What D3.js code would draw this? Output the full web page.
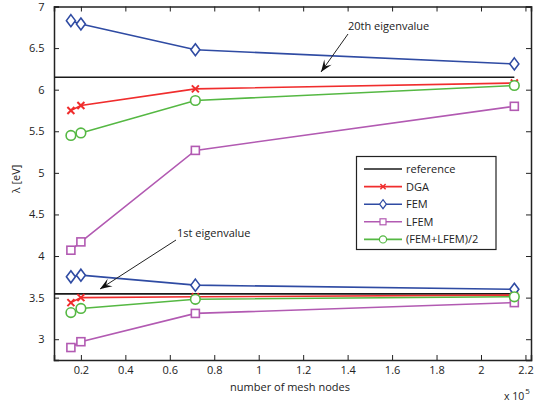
<!DOCTYPE html>
<html>
<head>
<meta charset="UTF-8">
<style>
  body { margin: 0; background: #fff; }
  text { font-family: "Open Sans", "Liberation Sans", sans-serif; fill: #222; }
</style>
</head>
<body>
<script src="https://d3js.org/d3.v7.min.js"></script>
<script>
// mesh node counts (x 10^5)
const nodes = [0.155, 0.2, 0.715, 2.15];
const refX = [0, 2.15];
// 20th eigenvalue
const ref20 = [6.15, 6.15];
const dga20 = [5.75, 5.81, 6.01, 6.08];
const fem20 = [6.83, 6.79, 6.48, 6.31];
const lfem20 = [4.07, 4.17, 5.27, 5.80];
const avg20 = [5.45, 5.48, 5.87, 6.05];
// 1st eigenvalue
const ref1 = [3.545, 3.545];
const dga1 = [3.44, 3.50, 3.51, 3.53];
const fem1 = [3.75, 3.77, 3.65, 3.60];
const lfem1 = [2.90, 2.97, 3.31, 3.44];
const avg1 = [3.32, 3.37, 3.48, 3.51];

const xTicks = [0.2, 0.4, 0.6, 0.8, 1, 1.2, 1.4, 1.6, 1.8, 2, 2.2];
const yTicks = [3, 3.5, 4, 4.5, 5, 5.5, 6, 6.5, 7];

const W = 541, H = 403;
const m = {left: 54, right: 10, top: 6.5, bottom: 43};

const svg = d3.select('body').append('svg')
  .attr('width', W).attr('height', H);

const x = d3.scaleLinear().domain([0.079, 2.225]).range([m.left, W - m.right]);
const y = d3.scaleLinear().domain([2.75, 7]).range([H - m.bottom, m.top]);

svg.append('clipPath').attr('id', 'clip').append('rect')
  .attr('x', x.range()[0]).attr('y', y.range()[1])
  .attr('width', x.range()[1] - x.range()[0]).attr('height', y.range()[0] - y.range()[1]);

// axes with inward ticks on all sides
const tk = 5;
svg.append('g').attr('transform', `translate(0,${y(2.75)})`)
  .call(d3.axisBottom(x).tickValues(xTicks).tickSize(-tk).tickPadding(6.5).tickFormat(d3.format('')));
svg.append('g').attr('transform', `translate(0,${y(7)})`)
  .call(d3.axisTop(x).tickValues(xTicks).tickSize(-tk).tickFormat(''));
svg.append('g').attr('transform', `translate(${x(0.079)},0)`)
  .call(d3.axisLeft(y).tickValues(yTicks).tickSize(-tk).tickPadding(9.5).tickFormat(d3.format('')));
svg.append('g').attr('transform', `translate(${x(2.225)},0)`)
  .call(d3.axisRight(y).tickValues(yTicks).tickSize(-tk).tickFormat(''));
svg.selectAll('.domain').attr('stroke', '#222').attr('stroke-width', 1.5);
svg.selectAll('.tick line').attr('stroke', '#222');
svg.selectAll('.tick text').style('font-size', '11px').attr('fill', '#222');

const line = d3.line().x(d => x(d[0])).y(d => y(d[1]));
const plot = svg.append('g').attr('clip-path', 'url(#clip)');

const series = [
  {name: 'reference', color: '#1a1a1a', mk: null, sets: [ref20, ref1], xs: refX},
  {name: 'DGA', color: '#f02d2d', mk: 'x', sets: [dga20, dga1], xs: nodes},
  {name: 'FEM', color: '#2f4ba3', mk: 'd', sets: [fem20, fem1], xs: nodes},
  {name: 'LFEM', color: '#b25ab2', mk: 's', sets: [lfem20, lfem1], xs: nodes},
  {name: '(FEM+LFEM)/2', color: '#55b843', mk: 'o', sets: [avg20, avg1], xs: nodes}
];

function marker(g, kind, color, cx, cy, k) {
  const s = g.append('g').attr('transform', `translate(${cx},${cy}) scale(${k || 1})`)
    .attr('fill', 'none').attr('stroke', color).attr('stroke-width', 1.6);
  if (kind === 'x') {
    s.append('path').attr('d', 'M-3.5,-3.5L3.5,3.5M-3.5,3.5L3.5,-3.5').attr('stroke-width', 2);
  } else if (kind === 'd') {
    s.append('path').attr('d', 'M0,-6L4.5,0L0,6L-4.5,0Z').attr('fill', '#fff');
  } else if (kind === 's') {
    s.append('rect').attr('x', -4).attr('y', -4).attr('width', 8).attr('height', 8).attr('fill', '#fff');
  } else if (kind === 'o') {
    s.append('circle').attr('r', 4.8).attr('fill', '#fff');
  }
}

series.forEach(se => {
  se.sets.forEach(vals => {
    const pts = se.xs.map((xv, i) => [xv, vals[i]]);
    plot.append('path').datum(pts).attr('d', line)
      .attr('fill', 'none').attr('stroke', se.color).attr('stroke-width', 1.6);
    if (se.mk) pts.forEach(p => marker(svg, se.mk, se.color, x(p[0]), y(p[1])));
  });
});

// annotations
function arrow(x1, y1, x2, y2) {
  svg.append('line').attr('x1', x1).attr('y1', y1).attr('x2', x2).attr('y2', y2)
    .attr('stroke', '#222').attr('stroke-width', 1);
  const a = Math.atan2(y2 - y1, x2 - x1);
  const L = 12, w = 4.5;
  const bx = x2 - L * Math.cos(a), by = y2 - L * Math.sin(a);
  const nx = -Math.sin(a), ny = Math.cos(a);
  const ix = x2 - L * 0.6 * Math.cos(a), iy = y2 - L * 0.6 * Math.sin(a);
  svg.append('path')
    .attr('d', `M${x2},${y2}L${bx + nx * w},${by + ny * w}L${ix},${iy}L${bx - nx * w},${by - ny * w}Z`)
    .attr('fill', '#111');
}
svg.append('text').attr('x', 348).attr('y', 30).style('font-size', '11px').text('20th eigenvalue');
arrow(348, 34, 321, 72);
svg.append('text').attr('x', 177).attr('y', 236.5).style('font-size', '11px').text('1st eigenvalue');
arrow(176, 240, 100, 289);

// legend
const lg = svg.append('g');
lg.append('rect').attr('x', 356.5).attr('y', 156.5).attr('width', 139.5).attr('height', 93)
  .attr('fill', '#fff').attr('stroke', '#222').attr('stroke-width', 1.2);
series.forEach((se, i) => {
  const ly = 169 + i * 17.6;
  lg.append('line').attr('x1', 364).attr('x2', 402).attr('y1', ly).attr('y2', ly)
    .attr('stroke', se.color).attr('stroke-width', 1.6);
  if (se.mk) marker(lg, se.mk, se.color, 383, ly, 0.75);
  lg.append('text').attr('x', 406).attr('y', ly + 4).style('font-size', '11px').text(se.name);
});

// axis labels
svg.append('text').attr('x', 290).attr('y', 391).attr('text-anchor', 'middle')
  .style('font-size', '11px').text('number of mesh nodes');
svg.append('text').attr('transform', 'translate(20,179) rotate(-90)').attr('text-anchor', 'middle')
  .style('font-size', '11px').text('λ [eV]');
const ex = svg.append('text').attr('x', 504).attr('y', 399.5).style('font-size', '10.5px');
ex.append('tspan').text('x 10');
ex.append('tspan').attr('dx', 1).attr('dy', -6).style('font-size', '8px').text('5');
</script>
</body>
</html>
